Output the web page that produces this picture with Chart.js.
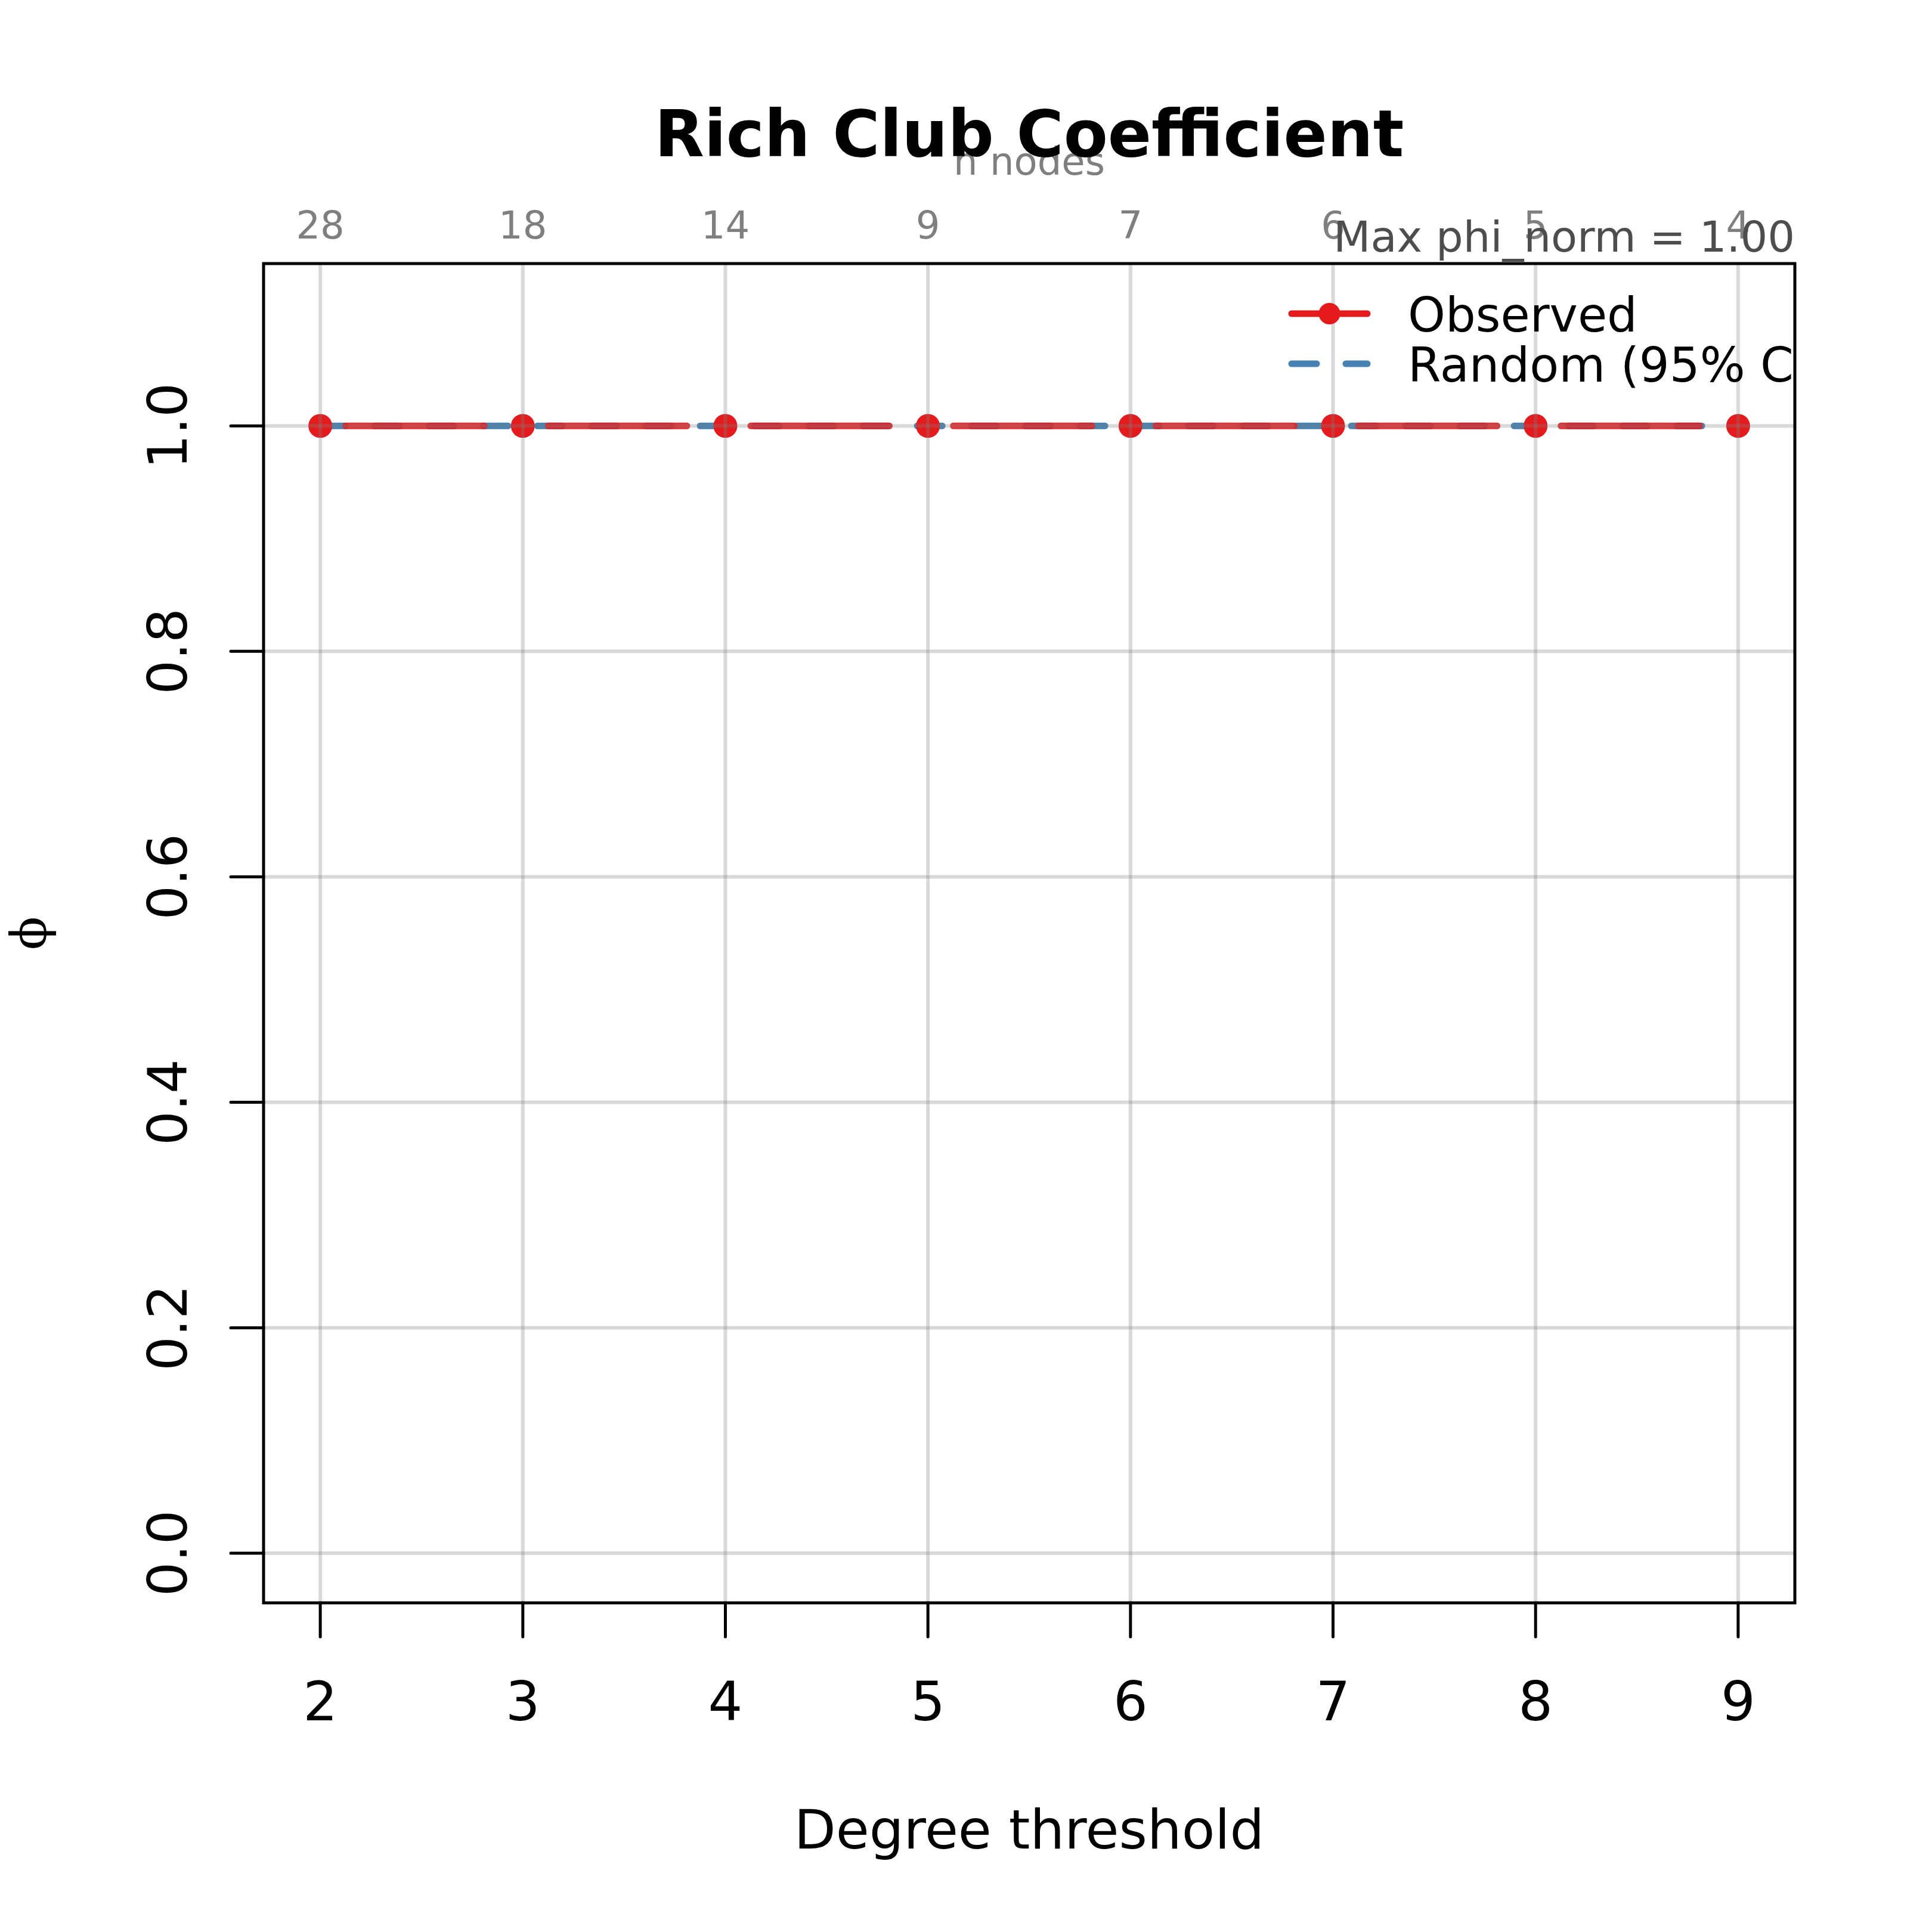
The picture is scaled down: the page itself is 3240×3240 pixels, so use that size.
<!DOCTYPE html>
<html>
<head>
<meta charset="utf-8">
<title>Rich Club Coefficient</title>
<script src="https://cdn.jsdelivr.net/npm/chart.js"></script>
<style>
  body { margin: 0; background: #fff; }
  #wrap { width: 3240px; height: 3240px; }
</style>
</head>
<body>
<div id="wrap"><canvas id="rich-club-chart" width="3240" height="3240"></canvas></div>
<script>
// data
var degreeThreshold = [2, 3, 4, 5, 6, 7, 8, 9];
var nNodes = [28, 18, 14, 9, 7, 6, 5, 4];
var phiObserved = [1, 1, 1, 1, 1, 1, 1, 1];
var phiRandomMean = [1, 1, 1, 1, 1, 1, 1, 1];
var phiRandomLow = [1, 1, 1, 1, 1, 1, 1, 1];
var phiRandomHigh = [1, 1, 1, 1, 1, 1, 1, 1];
var yTicks = [0, 0.2, 0.4, 0.6, 0.8, 1.0];
var maxPhiNorm = 1.00;
var legendLabels = ['Observed', 'Random (95% CI)'];

// R style axis ranges (4% padding)
var xMin = 1.72, xMax = 9.28;
var yMin = -0.044, yMax = 1.144;
var pad = { left: 442, top: 442, right: 230, bottom: 552 };

var RED = '#E41A1C';
var RED_A = 'rgba(228, 26, 28, 0.9)';
var BLUE = '#4682B4';
var FONT = '"DejaVu Sans", sans-serif';

// type="b" look: gaps around the points on the observed line
var pxPerDeg = (3240 - pad.left - pad.right) / (xMax - xMin);
var lw = 11;
var gapVis = 48;
var obsGap = 2 * gapVis + lw;
var obsDash = [pxPerDeg - obsGap, obsGap];
var obsOffset = obsDash[0] + (obsGap - (gapVis - lw / 2));
var randDash = [42, 49];

function pts(arr) {
    return degreeThreshold.map(function (d, i) { return { x: d, y: arr[i] }; });
}

var rBase = {
    id: 'rBase',
    beforeDraw: function (chart) {
        var c = chart.ctx;
        c.save();
        c.fillStyle = '#fff';
        c.fillRect(0, 0, chart.width, chart.height);
        c.restore();
    },
    afterDatasetsDraw: function (chart) {
        var c = chart.ctx, a = chart.chartArea;
        var xs = chart.scales.x, ys = chart.scales.y;
        var midX = (a.left + a.right) / 2;
        c.save();

        // grid goes on top of the lines, see-through
        c.strokeStyle = 'rgba(128, 128, 128, 0.3)';
        c.lineWidth = 6;
        degreeThreshold.forEach(function (d) {
            var px = xs.getPixelForValue(d);
            c.beginPath(); c.moveTo(px, a.top); c.lineTo(px, a.bottom); c.stroke();
        });
        yTicks.forEach(function (t) {
            var py = ys.getPixelForValue(t);
            c.beginPath(); c.moveTo(a.left, py); c.lineTo(a.right, py); c.stroke();
        });

        // box
        c.strokeStyle = '#000';
        c.lineWidth = 5;
        c.lineCap = 'round';
        c.strokeRect(a.left, a.top, a.right - a.left, a.bottom - a.top);

        // bottom axis
        c.fillStyle = '#000';
        c.font = '91px ' + FONT;
        c.textAlign = 'center';
        c.textBaseline = 'alphabetic';
        degreeThreshold.forEach(function (d) {
            var px = xs.getPixelForValue(d);
            c.beginPath(); c.moveTo(px, a.bottom); c.lineTo(px, a.bottom + 57); c.stroke();
            c.fillText(String(d), px, 2885);
        });
        c.fillText('Degree threshold', midX, 3100);

        // left axis, labels turned like R
        yTicks.forEach(function (t) {
            var py = ys.getPixelForValue(t);
            c.beginPath(); c.moveTo(a.left, py); c.lineTo(a.left - 55, py); c.stroke();
            c.save();
            c.translate(313, py);
            c.rotate(-Math.PI / 2);
            c.fillText(t.toFixed(1), 0, 0);
            c.restore();
        });
        c.save();
        c.translate(56, (a.top + a.bottom) / 2);
        c.rotate(-Math.PI / 2);
        c.font = '82px "DejaVu Serif", serif';
        c.textBaseline = 'middle';
        c.fillText('\u03D5', 0, 0);
        c.restore();

        // top axis: node counts
        c.fillStyle = '#7F7F7F';
        c.font = '64px ' + FONT;
        degreeThreshold.forEach(function (d, i) {
            c.fillText(String(nNodes[i]), xs.getPixelForValue(d), 400);
        });
        c.fillText('n nodes', midX, 293);

        // title
        c.fillStyle = '#000';
        c.font = 'bold 108px ' + FONT;
        c.fillText('Rich Club Coefficient', midX, 262);

        // note
        c.fillStyle = '#4D4D4D';
        c.font = '72px ' + FONT;
        c.textAlign = 'right';
        c.fillText('Max phi_norm = ' + maxPhiNorm.toFixed(2), a.right, 422);

        // legend, clipped to the plot region like R
        c.beginPath();
        c.rect(a.left, a.top, a.right - a.left, a.bottom - a.top);
        c.clip();
        var lx0 = 2166, lx1 = 2293, ly = [526, 610];
        c.lineWidth = lw;
        c.lineCap = 'round';
        c.strokeStyle = RED;
        c.beginPath(); c.moveTo(lx0, ly[0]); c.lineTo(lx1, ly[0]); c.stroke();
        c.fillStyle = RED;
        c.beginPath(); c.arc((lx0 + lx1) / 2, ly[0], 18, 0, Math.PI * 2); c.fill();
        c.strokeStyle = BLUE;
        c.setLineDash(randDash);
        c.beginPath(); c.moveTo(lx0, ly[1]); c.lineTo(lx1, ly[1]); c.stroke();
        c.setLineDash([]);
        c.fillStyle = '#000';
        c.font = '80px ' + FONT;
        c.textAlign = 'left';
        c.fillText(legendLabels[0], 2361, 556);
        c.fillText(legendLabels[1], 2361, 640);
        c.restore();
    }
};

var ctx = document.getElementById('rich-club-chart').getContext('2d');
var richClubChart = new Chart(ctx, {
    type: 'line',
    data: {
        datasets: [{
            label: 'Observed',
            data: pts(phiObserved),
            borderColor: RED_A,
            borderWidth: lw,
            borderDash: obsDash,
            borderDashOffset: obsOffset,
            borderCapStyle: 'round',
            pointRadius: 20,
            pointHoverRadius: 20,
            pointBackgroundColor: RED,
            pointBorderWidth: 0,
            fill: false
        }, {
            label: 'Random (95% CI)',
            data: pts(phiRandomMean),
            borderColor: BLUE,
            borderWidth: lw,
            borderDash: randDash,
            borderCapStyle: 'round',
            pointRadius: 0,
            fill: false
        }, {
            label: 'CI low',
            data: pts(phiRandomLow),
            borderWidth: 0,
            pointRadius: 0,
            fill: false
        }, {
            label: 'CI high',
            data: pts(phiRandomHigh),
            borderWidth: 0,
            pointRadius: 0,
            backgroundColor: 'rgba(70, 130, 180, 0.2)',
            fill: '-1'
        }]
    },
    options: {
        responsive: false,
        devicePixelRatio: 1,
        animation: false,
        layout: { padding: pad },
        scales: {
            x: { type: 'linear', min: xMin, max: xMax, display: false },
            y: { type: 'linear', min: yMin, max: yMax, display: false }
        },
        plugins: {
            legend: { display: false },
            tooltip: { enabled: false },
            title: { display: false }
        }
    },
    plugins: [rBase]
});
</script>
</body>
</html>
